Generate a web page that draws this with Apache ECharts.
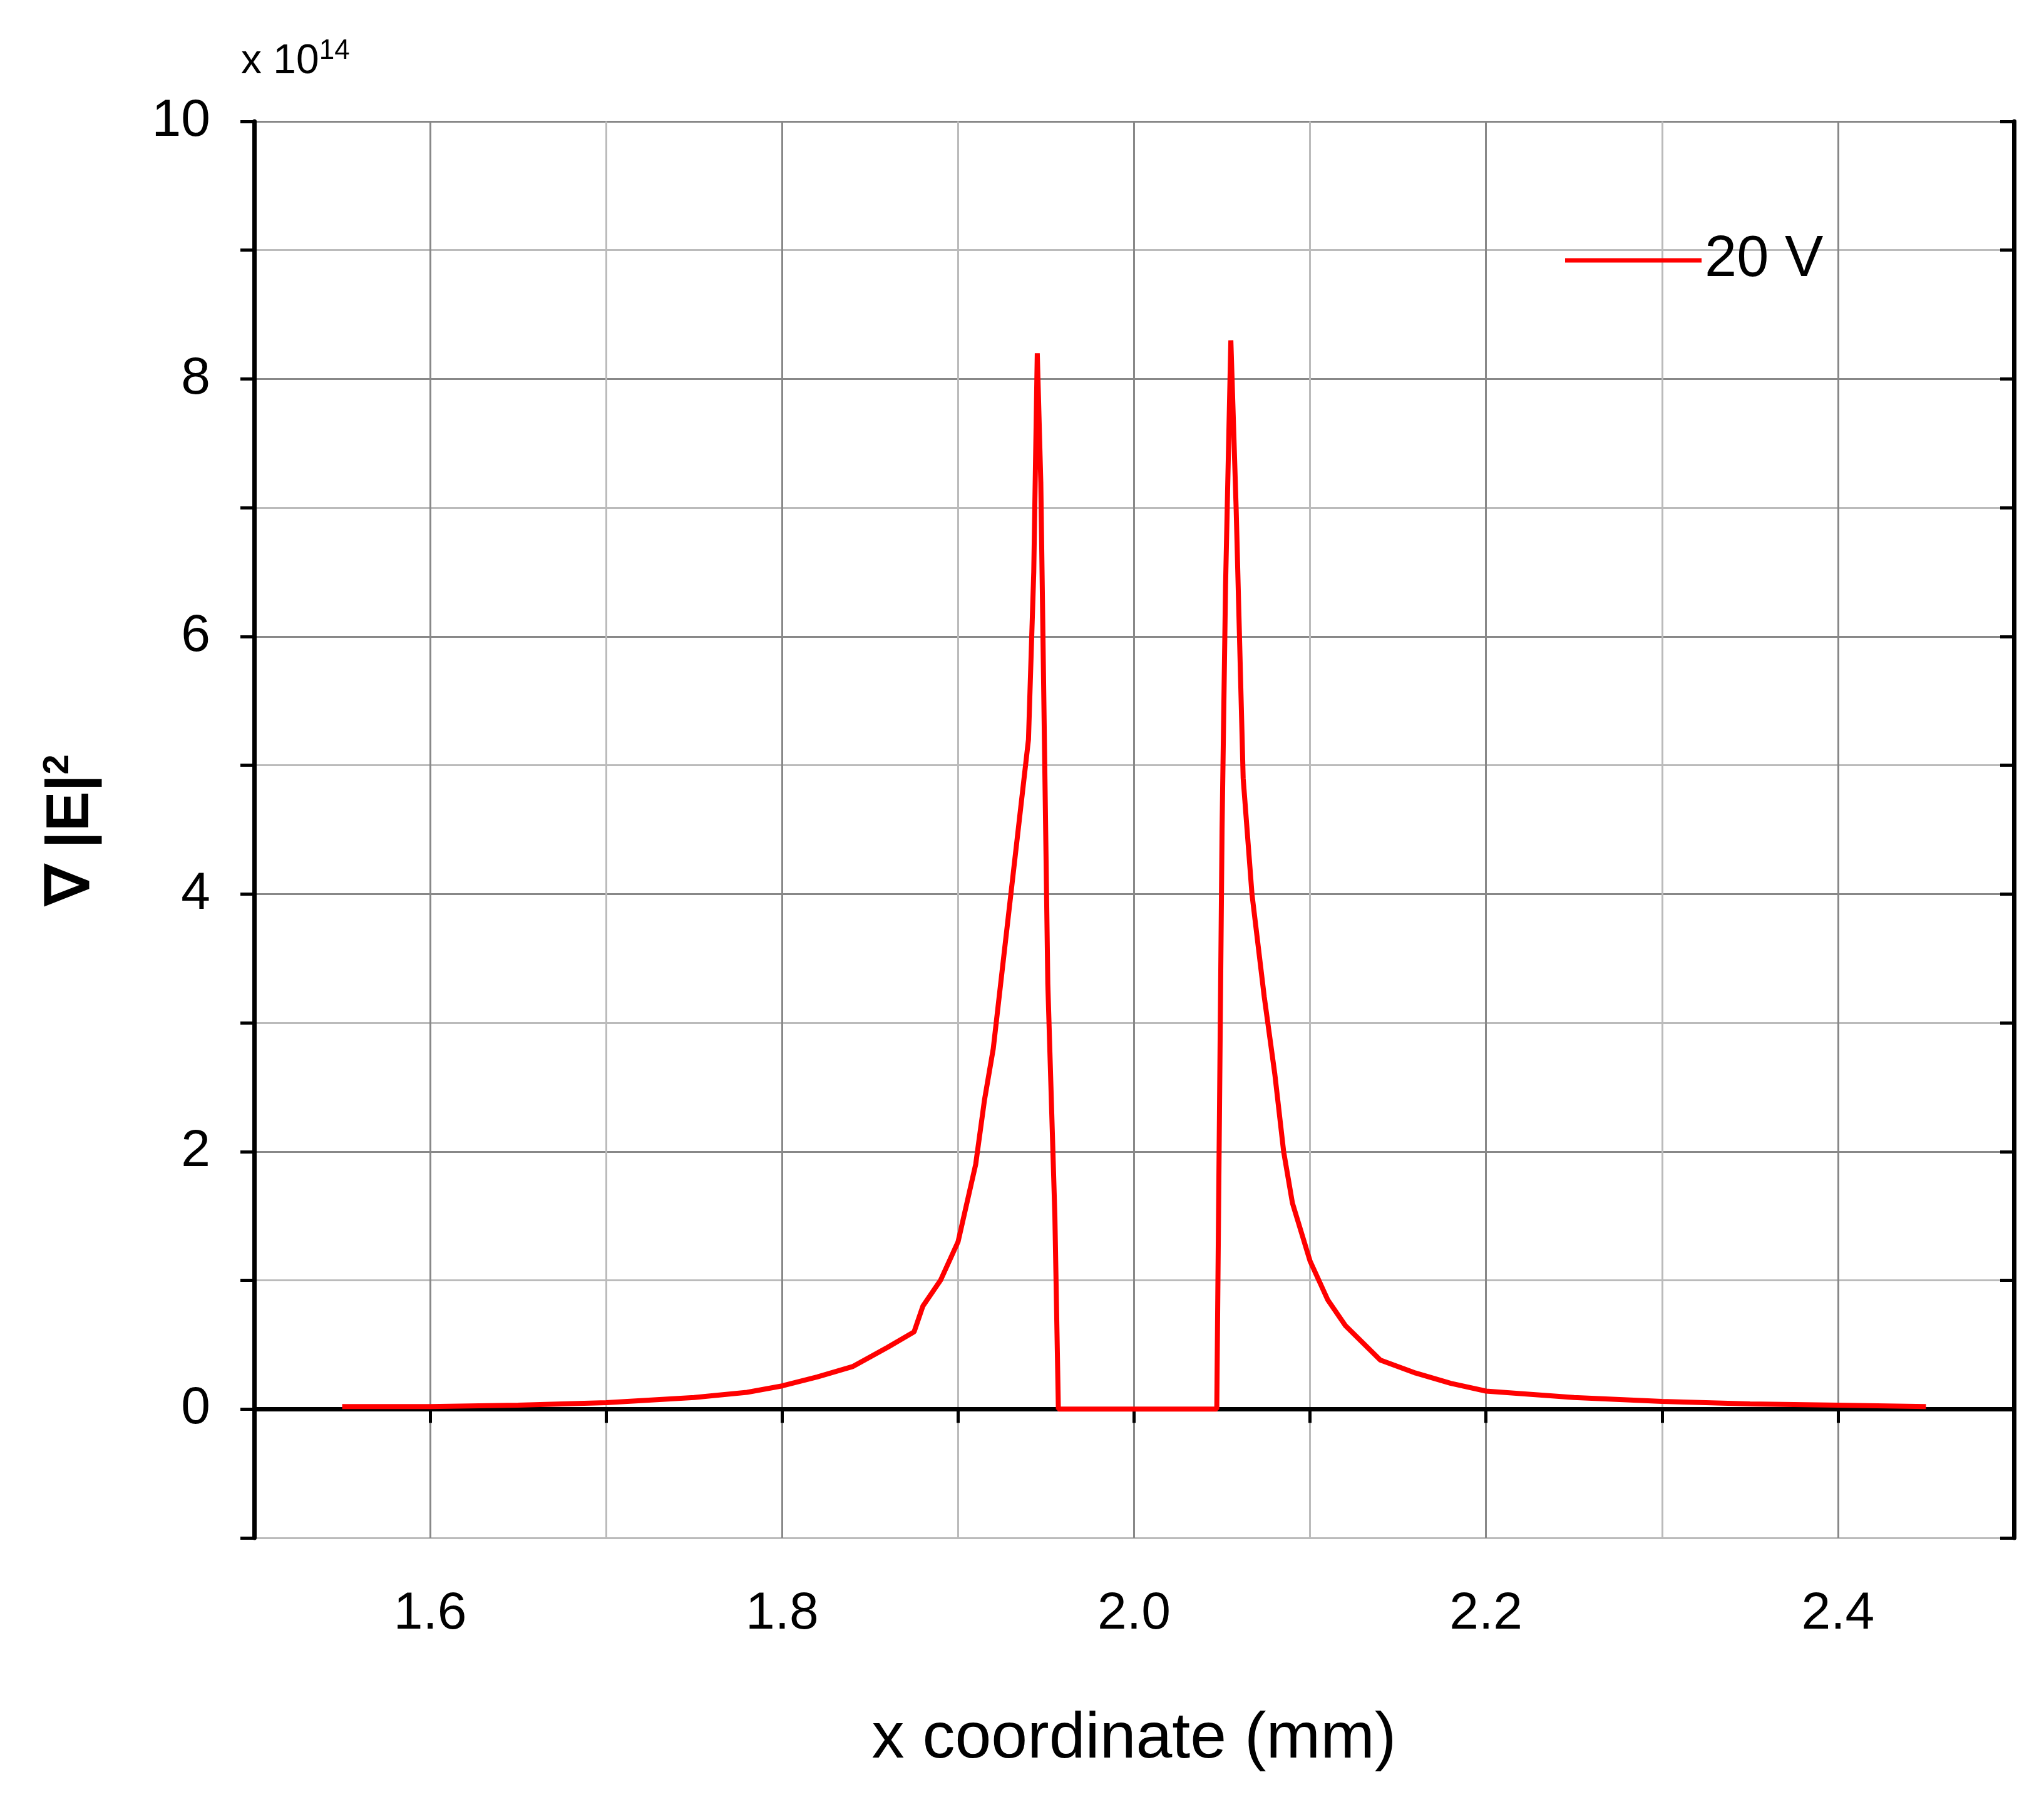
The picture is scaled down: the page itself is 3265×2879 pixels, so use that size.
<!DOCTYPE html>
<html><head><meta charset="utf-8">
<script src="https://cdn.jsdelivr.net/npm/echarts@6/dist/echarts.min.js"></script>
<style>html,body{margin:0;padding:0;background:#fff}#c{width:3265px;height:2879px}</style>
</head><body><div id="c"></div>
<script>
const xValues = [1.55,1.6,1.65,1.7,1.75,1.78,1.8,1.82,1.84,1.86,1.875,1.88,1.89,1.9,1.905,1.91,1.915,1.92,1.925,1.93,1.935,1.94,1.943,1.945,1.947,1.951,1.955,1.957,1.96,2.0,2.047,2.048,2.05,2.052,2.055,2.058,2.062,2.067,2.074,2.08,2.085,2.09,2.1,2.11,2.12,2.14,2.16,2.18,2.2,2.25,2.3,2.35,2.4,2.45];
const yValues = [0.02,0.02,0.03,0.05,0.09,0.13,0.18,0.25,0.33,0.48,0.6,0.8,1.0,1.3,1.6,1.9,2.4,2.8,3.4,4.0,4.6,5.2,6.5,8.2,7.2,3.3,1.5,0,0,0,0,1.5,4.5,6.4,8.3,7.0,4.9,4.0,3.2,2.6,2.0,1.6,1.15,0.85,0.65,0.38,0.28,0.2,0.14,0.09,0.06,0.04,0.03,0.02];
const seriesName = '20 V';
const data = xValues.map((x,i)=>[x,yValues[i]]);
const FONT = 'Liberation Sans, Arial, sans-serif';
const chart = echarts.init(document.getElementById('c'));
const axLine = {show:true,lineStyle:{color:'#000',width:7}};
chart.setOption({
  backgroundColor:'#fff',
  animation:false,
  grid:{left:406,right:48,top:194,bottom:422},
  legend:{data:[seriesName],left:2495,top:365,itemWidth:218,itemHeight:7,itemGap:25,
    textStyle:{fontSize:92,fontFamily:FONT,color:'#000'},icon:'rect'},
  graphic:[{type:'text',left:385,top:60,style:{text:'x 10{s|14}',rich:{s:{fontSize:44,fontFamily:FONT,verticalAlign:'top',padding:[0,0,34,0]}},fontSize:66,fontFamily:FONT,fill:'#000'}}],
  xAxis:[{type:'value',min:1.5,max:2.5,interval:0.1,
    axisLine:axLine,axisTick:{show:true,inside:false,length:22,lineStyle:{width:5,color:'#000'}},
    axisLabel:{fontSize:84,fontFamily:FONT,color:'#000',margin:80,
      formatter:v=>(Math.round(v*10)%2===0 && v>1.55 && v<2.45)?v.toFixed(1):''},
    splitLine:{show:true,lineStyle:{color:['#bbb','#888'],width:3,type:'solid'}},
    name:'x coordinate (mm)',nameLocation:'middle',nameGap:270,
    nameTextStyle:{fontSize:104,fontFamily:FONT,color:'#000'}},
   {type:'value',position:'top',min:1.5,max:2.5,interval:0.1,axisLine:axLine,
    axisTick:{show:true,inside:true,length:22,lineStyle:{width:5,color:'#000'}},axisLabel:{show:false},splitLine:{show:false}}],
  yAxis:[{type:'value',min:-1,max:10,interval:1,
    axisLine:axLine,axisTick:{show:true,inside:false,length:22,lineStyle:{width:5,color:'#000'}},
    axisLabel:{fontSize:84,fontFamily:FONT,color:'#000',margin:70,
      formatter:v=>(v>=0 && v%2===0)?String(v):''},
    splitLine:{show:true,lineStyle:{color:['#bbb','#888'],width:3}},
    name:'∇ |E|{s|2}',nameLocation:'middle',nameGap:240,nameRotate:90,
    nameTextStyle:{fontSize:96,fontFamily:FONT,color:'#000',fontWeight:'bold',rich:{s:{fontSize:58,fontFamily:FONT,verticalAlign:'top',padding:[0,0,44,0]}}}},
   {type:'value',position:'right',min:-1,max:10,interval:1,axisLine:axLine,
    axisTick:{show:true,inside:true,length:22,lineStyle:{width:5,color:'#000'}},axisLabel:{show:false},splitLine:{show:false}}],
  series:[{name:seriesName,type:'line',data:data,symbol:'none',xAxisIndex:0,yAxisIndex:0,
    lineStyle:{color:'#ff0000',width:8},itemStyle:{color:'#ff0000'}}]
});
</script></body></html>
